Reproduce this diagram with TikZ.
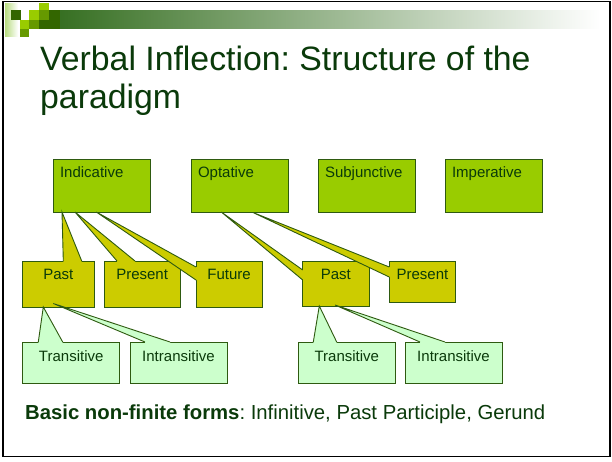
\documentclass[tikz,border=0pt]{standalone}
\usepackage{fontspec}
\setmainfont{Liberation Sans}
\usetikzlibrary{calc}
\frenchspacing
\definecolor{topfill}{HTML}{99CC00}
\definecolor{midfill}{HTML}{CCCC00}
\definecolor{botfill}{HTML}{CCFFCC}
\definecolor{bordc}{HTML}{2E5A10}
\definecolor{txtc}{HTML}{0A3A0A}
\definecolor{sqlight}{HTML}{99CC00}
\definecolor{sqmed}{HTML}{669900}
\definecolor{sqdark}{HTML}{336600}
\definecolor{barc}{HTML}{2F6A1A}
\definecolor{stripc}{HTML}{B8DC80}
% wedge on the top edge of a child box: #1 fill, #2 tip, #3 and #4 base points
\newcommand\wedgetop[4]{%
  \fill[#1] (#2) -- (#3) -- ($(#3)+(0,1.6)$) -- ($(#4)+(0,1.6)$) -- (#4) -- cycle;
  \draw[wedgeline] (#3) -- (#2) -- (#4);}
% wedge on the left edge of a child box
\newcommand\wedgeleft[4]{%
  \fill[#1] (#2) -- (#3) -- ($(#3)+(1.6,0)$) -- ($(#4)+(1.6,0)$) -- (#4) -- cycle;
  \draw[wedgeline] (#3) -- (#2) -- (#4);}
\begin{document}
\begin{tikzpicture}[x=1pt,y=-1pt,
  box/.style={draw=bordc, line width=0.9pt, anchor=north west, outer sep=0pt,
    inner ysep=0pt, text=txtc, font=\fontsize{15}{18}\selectfont},
  topbox/.style={box, fill=topfill, inner xsep=7pt, text width=83pt,
    text height=18pt, text depth=35pt, align=left},
  midbox/.style={box, fill=midfill, inner xsep=0pt, align=center, text height=18pt},
  botbox/.style={box, fill=botfill, inner xsep=0pt, align=center, text width=97pt,
    text height=19pt, text depth=22pt},
  wedgeline/.style={draw=bordc, line width=0.9pt, line join=miter},
  titletext/.style={anchor=base west, inner sep=0pt, text=txtc,
    font=\fontsize{33.8}{38}\selectfont},
  foottext/.style={anchor=base west, inner sep=0pt, text=txtc,
    font=\fontsize{20.3}{24}\selectfont}]
\useasboundingbox (0,0) rectangle (612,461);
\fill[white] (0,0) rectangle (612,461);
% header decoration
\shade[left color=stripc, right color=white] (5,3) rectangle (18,36);
\shade[left color=barc, right color=white] (39,10) rectangle (600,28.5);
\fill[sqlight] (39,3) rectangle (49,10);
\fill[sqdark] (11,10) rectangle (21,19.5);
\fill[sqlight] (29,10) rectangle (39,19.5);
\fill[sqmed] (39,10) rectangle (49,19.5);
\fill[sqdark] (49,10) rectangle (60,19.5);
\fill[sqlight] (20,19.5) rectangle (29,28.5);
\fill[sqmed] (29,19.5) rectangle (39,28.5);
\fill[sqdark] (39,19.5) rectangle (60,28.5);
\fill[sqmed] (20,28.5) rectangle (29,37);
% frame
\draw[line width=1.8pt, black] (3,1.5) rectangle (610,456.5);
% title
\node[titletext] (title1) at (40,70) {Verbal Inflection: Structure of the};
\node[titletext] (title2) at (40,108) {paradigm};
% top level
\node[topbox] (ind) at (53,159) {Indicative};
\node[topbox] (opt) at (191,159) {Optative};
\node[topbox] (sub) at (318,159) {Subjunctive};
\node[topbox] (imp) at (445,159) {Imperative};
% middle level
\node[midbox, text width=71.3pt, text depth=28pt] (past) at (22.7,261) {Past};
\node[midbox, text width=75.7pt, text depth=28pt] (pres) at (104.3,261) {Present};
\node[midbox, text width=66.3pt, text depth=28pt] (fut) at (196,261) {Future};
\node[midbox, text width=66.3pt, text depth=27pt] (pastb) at (302.7,261) {Past};
\node[midbox, text width=66.3pt, text depth=23pt] (presb) at (389.3,261) {Present};
% middle-level pointers
\coordinate (tpast) at ($(ind.south west)+(9,0)$);
\coordinate (tpres) at ($(ind.south west)+(22,0)$);
\coordinate (tfut) at ($(ind.south west)+(43.3,0)$);
\coordinate (tpastb) at ($(opt.south west)+(30.3,0)$);
\coordinate (tpresb) at ($(opt.south west)+(62,0.5)$);
\coordinate (bpast1) at ($(past.north west)+(40.6,0)$);
\coordinate (bpast2) at ($(past.north west)+(59,0)$);
\coordinate (bpres1) at ($(pres.north west)+(12.7,0)$);
\coordinate (bpres2) at ($(pres.north west)+(30.7,0)$);
\coordinate (bfut1) at ($(fut.north west)+(0,6)$);
\coordinate (bfut2) at ($(fut.north west)+(0,19)$);
\coordinate (bpastb1) at ($(pastb.north west)+(0,9)$);
\coordinate (bpastb2) at ($(pastb.north west)+(0,19)$);
\coordinate (bpresb1) at ($(presb.north west)+(0,6)$);
\coordinate (bpresb2) at ($(presb.north west)+(0,16)$);
\wedgetop{midfill}{tpast}{bpast1}{bpast2}
\wedgetop{midfill}{tpres}{bpres1}{bpres2}
\wedgeleft{midfill}{tfut}{bfut1}{bfut2}
\wedgeleft{midfill}{tpastb}{bpastb1}{bpastb2}
\wedgeleft{midfill}{tpresb}{bpresb1}{bpresb2}
% bottom level
\node[botbox] (tra) at (22.7,342) {Transitive};
\node[botbox] (intr) at (130,342) {Intransitive};
\node[botbox] (trab) at (298.3,342) {Transitive};
\node[botbox] (intrb) at (405,342) {Intransitive};
\coordinate (ttra) at ($(past.south west)+(20.6,0)$);
\coordinate (tintr) at ($(past.south west)+(30.6,-3.5)$);
\coordinate (ttrab) at ($(pastb.south west)+(16.6,0)$);
\coordinate (tintrb) at ($(pastb.south west)+(32.3,-1)$);
\coordinate (btra1) at ($(tra.north west)+(15.6,0)$);
\coordinate (btra2) at ($(tra.north west)+(40,0)$);
\coordinate (bintr1) at ($(intr.north west)+(15,0)$);
\coordinate (bintr2) at ($(intr.north west)+(40,0)$);
\coordinate (btrab1) at ($(trab.north west)+(15,0)$);
\coordinate (btrab2) at ($(trab.north west)+(38.4,0)$);
\coordinate (bintrb1) at ($(intrb.north west)+(15,0)$);
\coordinate (bintrb2) at ($(intrb.north west)+(40,0)$);
\wedgetop{botfill}{ttra}{btra1}{btra2}
\wedgetop{botfill}{tintr}{bintr1}{bintr2}
\wedgetop{botfill}{ttrab}{btrab1}{btrab2}
\wedgetop{botfill}{tintrb}{bintrb1}{bintrb2}
% footer line
\node[foottext] (foot) at (25,419) {\textbf{Basic non-finite forms}: Infinitive, Past Participle, Gerund};
\end{tikzpicture}
\end{document}
